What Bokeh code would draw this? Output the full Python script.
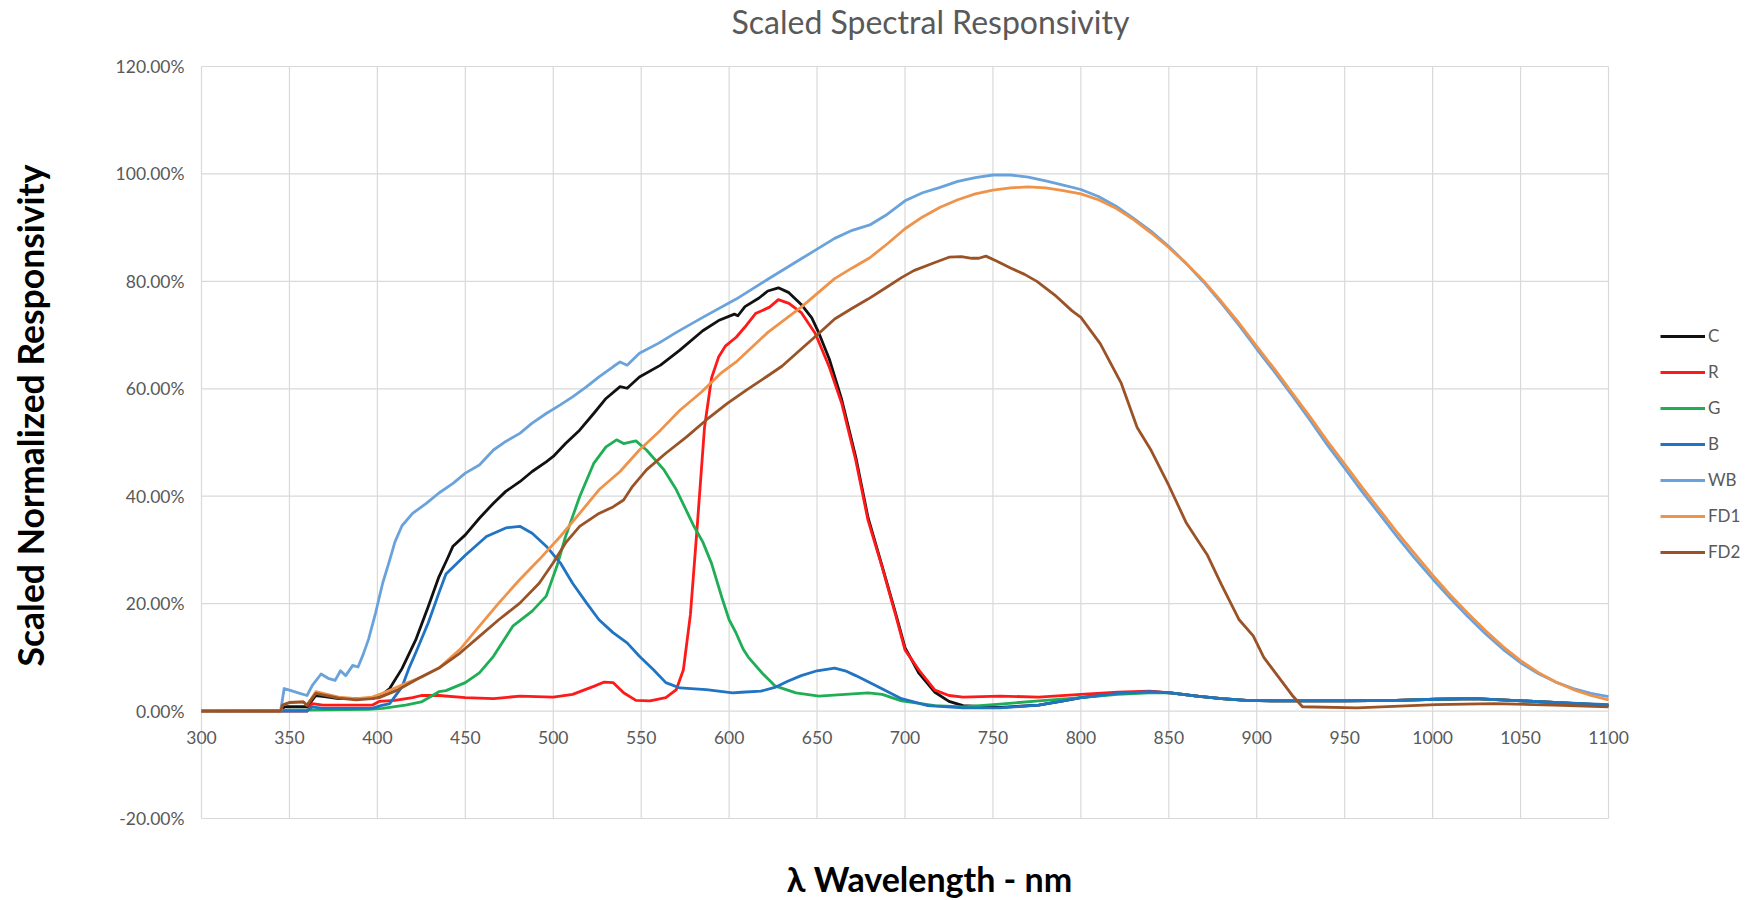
from bokeh.plotting import figure
from bokeh.models import Range1d, Label, Legend, LegendItem
from bokeh.core.properties import value
from bokeh.embed import file_html
from bokeh.resources import INLINE

# ---------------- data ----------------
x_ticks = [300, 350, 400, 450, 500, 550, 600, 650, 700, 750, 800, 850, 900, 950, 1000, 1050, 1100]
y_ticks = [-20, 0, 20, 40, 60, 80, 100, 120]
x_tick_labels = [str(t) for t in x_ticks]
y_tick_labels = ["%.2f%%" % t for t in y_ticks]
series_names = ["C", "R", "G", "B", "WB", "FD1", "FD2"]
series_colors = ["#111111", "#ff1a1a", "#1fae55", "#1f74c4", "#6aa3dc", "#f0934a", "#9a5327"]

c_wl = [300, 345, 347, 360, 365, 370, 378, 397, 402, 407, 414, 422, 429, 435, 440, 443, 450, 458, 466, 473,
        481, 488, 496, 500, 507, 515, 523, 530, 538, 542, 549, 561, 572, 585, 594, 603, 605, 609, 617, 622,
        628, 634, 641, 647, 651, 657, 664, 672, 679, 687, 695, 700, 708, 717, 725, 733, 754, 776, 790, 800,
        821, 839, 851, 866, 880, 894, 912, 950, 979, 1002, 1024, 1051, 1069, 1100]
c_val = [0, 0, 0.8, 0.8, 2.9, 2.7, 2.3, 2.3, 2.9, 4.2, 7.9, 13.4, 19.5, 25.0, 28.5, 30.7, 32.8, 35.9, 38.7, 40.9,
         42.7, 44.6, 46.4, 47.4, 49.8, 52.3, 55.4, 58.2, 60.4, 60.1, 62.2, 64.4, 67.2, 70.8, 72.7, 73.9, 73.6, 75.3, 76.9, 78.2,
         78.8, 77.9, 75.7, 73.2, 70.4, 65.5, 58.0, 47.3, 36.0, 27.0, 17.8, 11.8, 7.0, 3.5, 1.8, 1.0, 0.7, 1.1, 1.9, 2.5,
         3.3, 3.6, 3.4, 2.8, 2.3, 2.0, 1.9, 1.9, 2.0, 2.2, 2.3, 1.9, 1.6, 1.0]

r_wl = [300, 360, 363, 369, 397, 401, 410, 420, 425, 435, 450, 466, 481, 500, 511, 523, 529, 534, 540, 547,
        555, 564, 570, 574, 578, 582, 586, 590, 594, 598, 604, 609, 615, 623, 628, 634, 641, 649, 657, 664,
        672, 679, 687, 695, 700, 708, 717, 725, 733, 754, 776, 800, 821, 839, 851, 866, 880, 894, 912, 950,
        979, 1002, 1024, 1051, 1069, 1100]
r_val = [0, 0, 1.4, 1.1, 1.1, 1.8, 2.0, 2.5, 2.9, 2.9, 2.5, 2.3, 2.8, 2.6, 3.1, 4.6, 5.4, 5.3, 3.4, 2.0,
         1.9, 2.5, 4.0, 7.7, 18.0, 35.0, 52.8, 62.0, 65.9, 68.0, 69.6, 71.5, 74.0, 75.2, 76.6, 75.9, 74.2, 70.3, 64.0, 57.3,
         46.7, 35.5, 26.8, 17.5, 11.4, 7.6, 3.9, 2.9, 2.6, 2.8, 2.6, 3.1, 3.5, 3.7, 3.4, 2.8, 2.3, 2.0, 1.9, 1.9,
         2.0, 2.2, 2.3, 1.9, 1.6, 1.1]

g_wl = [300, 395, 403, 416, 425, 435, 439, 450, 458, 466, 477, 488, 496, 502, 507, 515, 523, 530, 536, 540,
        547, 553, 563, 570, 580, 585, 590, 596, 600, 604, 608, 611, 619, 626, 638, 651, 666, 679, 687, 698,
        717, 733, 754, 776, 800, 821, 839, 851, 866, 880, 894, 912, 950, 979, 1002, 1024, 1051, 1069, 1100]
g_val = [0, 0.3, 0.5, 1.1, 1.7, 3.6, 3.8, 5.3, 7.1, 10.2, 15.8, 18.6, 21.4, 26.9, 32.5, 39.9, 46.1, 49.2, 50.5, 49.8,
         50.3, 48.6, 44.9, 41.2, 34.4, 31.5, 27.5, 21.0, 17.0, 14.5, 11.5, 10.0, 7.0, 4.7, 3.4, 2.8, 3.1, 3.4, 3.1, 1.9,
         1.0, 0.8, 1.3, 1.9, 2.5, 3.1, 3.4, 3.4, 2.8, 2.3, 2.0, 1.9, 1.9, 2.0, 2.2, 2.3, 1.9, 1.6, 1.1]

b_wl = [300, 360, 363, 369, 397, 402, 407, 414, 418, 422, 429, 435, 439, 450, 462, 473, 481, 488, 496, 504,
        511, 519, 526, 534, 542, 549, 557, 564, 572, 587, 602, 607, 618, 626, 633, 641, 650, 660, 666, 672,
        683, 698, 713, 733, 754, 776, 790, 800, 821, 839, 851, 866, 880, 894, 912, 951, 979, 1002, 1024, 1051,
        1069, 1100]
b_val = [0, 0, 0.8, 0.5, 0.5, 1.0, 1.4, 4.5, 8.0, 11.0, 16.5, 22.0, 25.5, 29.0, 32.5, 34.1, 34.4, 33.1, 30.7, 27.6,
         23.8, 20.1, 17.0, 14.6, 12.7, 10.2, 7.7, 5.3, 4.3, 4.0, 3.4, 3.5, 3.7, 4.4, 5.5, 6.6, 7.5, 8.0, 7.5, 6.6,
         4.8, 2.3, 1.0, 0.6, 0.6, 1.1, 1.9, 2.5, 3.3, 3.6, 3.4, 2.8, 2.3, 2.0, 1.9, 1.9, 2.0, 2.2, 2.3, 1.9,
         1.6, 1.2]

wb_wl = [300, 345, 347, 350, 355, 360, 363, 368, 372, 376, 379, 382, 386, 389, 392, 395, 399, 403, 407, 410,
         414, 420, 428, 435, 443, 450, 458, 466, 473, 481, 488, 496, 504, 511, 519, 526, 534, 538, 542, 549,
         560, 570, 585, 604, 622, 641, 650, 660, 670, 680,
         690, 700, 710, 720, 730, 740, 750, 760, 770, 780, 790, 800, 810, 820, 830, 840, 850, 860, 870, 880,
         890, 900, 910, 920, 930, 940, 950, 960, 970, 980, 990, 1000, 1010, 1020, 1030, 1040, 1050, 1060, 1070, 1080,
         1090, 1100]
wb_val = [0, 0, 4.2, 3.9, 3.4, 2.9, 4.8, 6.9, 6.1, 5.7, 7.5, 6.6, 8.5, 8.2, 10.6, 13.4, 18.3, 23.8, 28.1, 31.5,
          34.5, 36.8, 38.7, 40.6, 42.4, 44.3, 45.8, 48.6, 50.2, 51.7, 53.6, 55.4, 57.0, 58.5, 60.4, 62.2, 64.1, 65.0, 64.4, 66.6,
          68.5, 70.5, 73.3, 76.7, 80.4, 84.2, 86.0, 88.0, 89.5, 90.5,
          92.5, 95.0, 96.5, 97.5, 98.6, 99.3, 99.8, 99.8, 99.4, 98.7, 97.9, 97.1, 95.8, 94.0, 91.7, 89.3, 86.5, 83.3, 79.8, 75.9,
          71.8, 67.4, 63.2, 58.8, 54.3, 49.6, 45.2, 40.8, 36.6, 32.4, 28.4, 24.6, 21.0, 17.6, 14.4, 11.5, 9.0, 7.0, 5.4, 4.2,
          3.3, 2.7]

fd1_wl = [300, 345, 346, 350, 358, 360, 365, 369, 378, 388, 397, 403, 410, 418, 425, 435, 447, 458, 469, 481,
          492, 504, 515, 526, 538, 549, 561, 572, 584, 595, 604, 622, 641, 651, 660, 670, 680, 690, 700,
          710, 720, 730, 740, 750, 760, 770, 780, 790, 800, 810, 820, 830, 840, 850, 860, 870, 880, 890, 900,
          910, 920, 930, 940, 950, 960, 970, 980, 990, 1000, 1010, 1020, 1030, 1040, 1050, 1060, 1070, 1080, 1090, 1100]
fd1_val = [0, 0, 1.1, 1.6, 1.7, 1.1, 3.6, 3.3, 2.6, 2.3, 2.6, 3.3, 4.3, 5.4, 6.3, 8.0, 11.5, 15.8, 20.1, 24.5,
           28.2, 32.5, 36.8, 41.2, 44.6, 48.6, 52.3, 56.0, 59.3, 62.8, 65.0, 70.5, 75.2, 78.0, 80.5, 82.5, 84.4, 87.0, 89.8,
           92.0, 93.8, 95.2, 96.3, 97.0, 97.4, 97.6, 97.4, 96.9, 96.3, 95.2, 93.6, 91.5, 89.0, 86.3, 83.3, 80.0, 76.2, 72.2, 67.9,
           63.7, 59.3, 54.9, 50.3, 46.0, 41.6, 37.4, 33.2, 29.2, 25.3, 21.6, 18.2, 15.0, 12.0, 9.4, 7.2, 5.4, 4.0, 2.9, 2.1]

fd2_wl = [300, 345, 346, 350, 358, 360, 365, 369, 378, 388, 397, 401, 412, 424, 435, 447, 458, 469, 481, 492,
          500, 507, 515, 526, 534, 540, 545, 553, 564, 576, 587, 599, 610, 621, 630, 641, 650, 660, 670, 679,
          690, 698, 705, 717, 725, 732, 738, 742, 746, 752, 760, 768, 775, 785, 795, 800, 811, 823, 832, 840,
          850, 860, 866, 872, 880, 890, 898, 904, 912, 920, 926, 957, 1002, 1035, 1069, 1100]
fd2_val = [0, 0, 1.1, 1.6, 1.7, 1.1, 3.3, 3.0, 2.4, 2.1, 2.3, 2.5, 4.0, 6.2, 8.0, 10.8, 13.9, 17.0, 20.1, 23.8,
           27.6, 31.3, 34.4, 36.8, 38.0, 39.3, 41.8, 44.9, 48.0, 51.1, 54.2, 57.3, 59.8, 62.2, 64.2, 67.4, 70.0, 73.0, 75.0, 76.7,
           79.0, 80.7, 82.0, 83.5, 84.5, 84.6, 84.3, 84.3, 84.7, 83.8, 82.5, 81.3, 80.0, 77.5, 74.5, 73.3, 68.4, 61.0, 52.8, 48.5,
           42.0, 35.0, 32.0, 29.0, 23.5, 17.0, 14.0, 10.0, 6.5, 3.0, 0.8, 0.6, 1.2, 1.4, 1.1, 0.8]

series_data = [(c_wl, c_val), (r_wl, r_val), (g_wl, g_val), (b_wl, b_val),
               (wb_wl, wb_val), (fd1_wl, fd1_val), (fd2_wl, fd2_val)]

# ---------------- layout (pixels) ----------------
W, H = 1744, 898
PX_L, PX_R = 201.0, 1608.0      # pixel x of 300 nm and 1100 nm
PY_T, PY_B = 66.0, 818.0        # pixel y of 120 % and -20 %
sx = (PX_R - PX_L) / 800.0
sy = (PY_B - PY_T) / 140.0
x0 = 300 - PX_L / sx
x1 = 300 + (W - PX_L) / sx
y1 = 120 + PY_T / sy
y0 = 120 - (H - PY_T) / sy

FONT = "Lato"
GRID = "#d9d9d9"
TXT = "#595959"

p = figure(width=W, height=H, x_range=Range1d(x0, x1), y_range=Range1d(y0, y1),
           x_axis_type=None, y_axis_type=None,
           output_backend="svg", toolbar_location=None, min_border=0)
p.title.visible = False
p.outline_line_color = None
p.background_fill_color = "white"
p.border_fill_color = "white"
p.xgrid.visible = False
p.ygrid.visible = False

# grid lines (plot area 300-1100 nm, -20 %..120 %)
p.segment(x0=x_ticks, y0=[y_ticks[0]] * len(x_ticks), x1=x_ticks, y1=[y_ticks[-1]] * len(x_ticks),
          line_color=GRID, line_width=1.2)
p.segment(x0=[x_ticks[0]] * len(y_ticks), y0=y_ticks, x1=[x_ticks[-1]] * len(y_ticks), y1=y_ticks,
          line_color=GRID, line_width=1.2)

# tick labels
p.text(x=[x_ticks[0]] * len(y_ticks), y=y_ticks, text=y_tick_labels, x_offset=-17,
       text_align="right", text_baseline="middle", text_font=value(FONT),
       text_font_size="17.5px", text_color=TXT)
p.text(x=x_ticks, y=[0] * len(x_ticks), text=x_tick_labels, y_offset=26,
       text_align="center", text_baseline="middle", text_font=value(FONT),
       text_font_size="17.5px", text_color=TXT)

items = []
for name, color, (wl, val) in zip(series_names, series_colors, series_data):
    r = p.line(wl, val, line_color=color, line_width=2.8, line_join="round")
    items.append(LegendItem(label=name, renderers=[r]))

leg_top = 334.3 - 11
leg_h = 7 * 22 + 6 * 14.2
legend = Legend(items=items, location=(1660, H - (leg_top + leg_h)), orientation="vertical",
                glyph_width=45, glyph_height=22, label_height=22, spacing=14,
                padding=0, margin=0, border_line_color=None, background_fill_alpha=0,
                label_text_font=FONT, label_text_font_size="17px", label_text_color=TXT,
                label_standoff=3)
p.add_layout(legend)

p.add_layout(Label(x=930, y=H - 21, x_units="screen", y_units="screen",
                   text="Scaled Spectral Responsivity", text_align="center",
                   text_baseline="alphabetic", text_font=FONT, text_font_size="32px",
                   text_color=TXT))
p.add_layout(Label(x=30, y=H - 415, x_units="screen", y_units="screen", angle=1.5707963,
                   text="Scaled Normalized Responsivity", text_align="center",
                   text_baseline="middle", text_font=FONT, text_font_size="35.5px",
                   text_font_style="bold", text_color="black"))
p.add_layout(Label(x=929, y=H - 878, x_units="screen", y_units="screen",
                   text="λ Wavelength - nm", text_align="center",
                   text_baseline="alphabetic", text_font=FONT, text_font_size="34px",
                   text_font_style="bold", text_color="black"))

open("out.html", "w").write(file_html(p, INLINE))
